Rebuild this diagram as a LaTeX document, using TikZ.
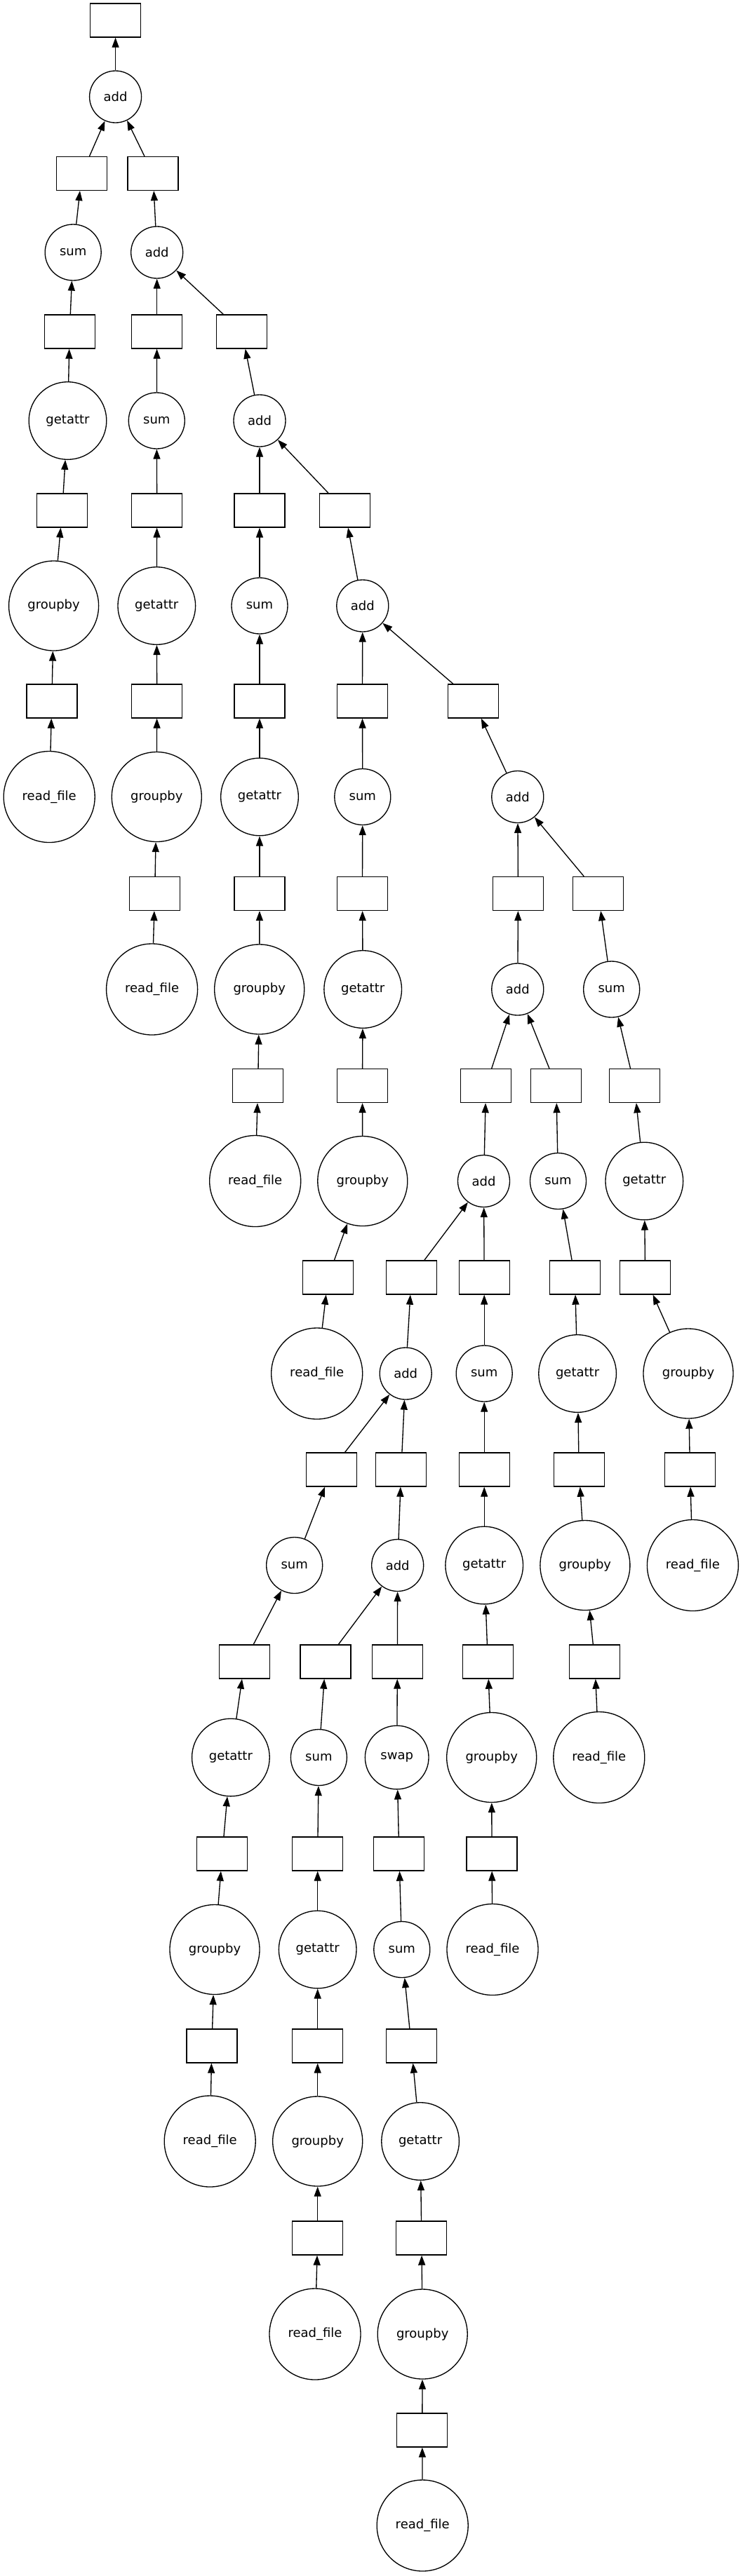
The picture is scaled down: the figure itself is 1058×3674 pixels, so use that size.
\documentclass[tikz,border=0pt]{standalone}
\usepackage{fontspec}
\setmainfont{DejaVu Sans}
\usepackage{tikz}
\usetikzlibrary{arrows.meta}
\tikzset{
	fn/.style={draw,circle,inner sep=0pt,line width=1pt,font=\fontsize{13.5}{16}\selectfont},
	readfile/.style={fn,minimum size=97.5pt},
	groupby/.style={fn,minimum size=96pt},
	getattr/.style={fn,minimum size=83pt},
	swapfn/.style={fn,minimum size=68pt},
	sumfn/.style={fn,minimum size=60pt},
	addfn/.style={fn,minimum size=55.5pt},
	dat/.style={draw,rectangle,inner sep=0pt,line width=1pt,minimum width=54pt,minimum height=36pt},
	link/.style={line width=1pt,-{Triangle[length=10.5pt,width=7.5pt]}}
}

\begin{document}
\begin{tikzpicture}[x=0.75pt,y=-0.75pt]
				\useasboundingbox (0,0) rectangle (1058,3674);
				% adds and their outputs
				\node[dat] (result) at (164.6,29) {};
				\node[addfn] (add1) at (164.6,138) {add};
				\node[dat] (badd2) at (218,247.5) {};
				\node[addfn] (add2) at (223.7,360) {add};
				\node[dat] (badd3) at (344.8,473) {};
				\node[addfn] (add3) at (370,600) {add};
				\node[dat] (badd4) at (491.5,728) {};
				\node[addfn] (add4) at (516.8,864) {add};
				\node[dat] (badd5) at (674.4,1000) {};
				\node[addfn] (add5) at (737.8,1136.5) {add};
				\node[dat] (badd6) at (738.5,1274.5) {};
				\node[addfn] (add6) at (737.8,1411) {add};
				\node[dat] (badd7) at (692.6,1548.5) {};
				\node[addfn] (add7) at (689.5,1684.5) {add};
				\node[dat] (badd8) at (586.3,1822) {};
				\node[addfn] (add8) at (578.2,1959) {add};
				\node[dat] (badd9) at (571.8,2096) {};
				\node[addfn] (add9) at (566.7,2232.5) {add};
				% chain 1
				\node[readfile] (rf1) at (70.2,1136.5) {read\_file};
				\node[dat] (brf1) at (73.9,1000) {};
				\node[groupby] (gb1) at (76.6,864) {groupby};
				\node[dat] (bgb1) at (88.7,728) {};
				\node[getattr] (ga1) at (96.5,600) {getattr};
				\node[dat] (bga1) at (99.2,473) {};
				\node[sumfn] (sm1) at (104.2,360) {sum};
				\node[dat] (bsm1) at (116.7,247.5) {};
				% chain 2
				\node[readfile] (rf2) at (216.6,1411) {read\_file};
				\node[dat] (brf2) at (220.6,1274.5) {};
				\node[groupby] (gb2) at (223.3,1136.5) {groupby};
				\node[dat] (bgb2) at (223.7,1000) {};
				\node[getattr] (ga2) at (223.3,864) {getattr};
				\node[dat] (bga2) at (223.7,728) {};
				\node[sumfn] (sm2) at (223.3,600) {sum};
				\node[dat] (bsm2) at (223.7,473) {};
				% chain 3
				\node[readfile] (rf3) at (363.7,1684.5) {read\_file};
				\node[dat] (brf3) at (367.7,1548.5) {};
				\node[groupby] (gb3) at (369.7,1411) {groupby};
				\node[dat] (bgb3) at (370,1274.5) {};
				\node[getattr] (ga3) at (370,1136.5) {getattr};
				\node[dat] (bga3) at (370,1000) {};
				\node[sumfn] (sm3) at (370,864) {sum};
				\node[dat] (bsm3) at (370,728) {};
				% chain 4
				\node[readfile] (rf4) at (451.7,1959) {read\_file};
				\node[dat] (brf4) at (467.6,1822) {};
				\node[groupby] (gb4) at (516.8,1684.5) {groupby};
				\node[dat] (bgb4) at (516.5,1548.5) {};
				\node[getattr] (ga4) at (517.2,1411) {getattr};
				\node[dat] (bga4) at (516.5,1274.5) {};
				\node[sumfn] (sm4) at (516.8,1136.5) {sum};
				\node[dat] (bsm4) at (516.5,1000) {};
				% chain 5
				\node[readfile] (rf5) at (987.4,2232.5) {read\_file};
				\node[dat] (brf5) at (983.4,2096) {};
				\node[groupby] (gb5) at (981,1959) {groupby};
				\node[dat] (bgb5) at (919.6,1822) {};
				\node[getattr] (ga5) at (918.3,1684.5) {getattr};
				\node[dat] (bga5) at (904.4,1548.5) {};
				\node[sumfn] (sm5) at (871.7,1411) {sum};
				\node[dat] (bsm5) at (852.8,1274.5) {};
				% chain 6
				\node[readfile] (rf6) at (853.8,2506.5) {read\_file};
				\node[dat] (brf6) at (847.8,2370) {};
				\node[groupby] (gb6) at (833.9,2232.5) {groupby};
				\node[dat] (bgb6) at (825.2,2096) {};
				\node[getattr] (ga6) at (823.1,1959) {getattr};
				\node[dat] (bga6) at (819.4,1822) {};
				\node[sumfn] (sm6) at (795.5,1684.5) {sum};
				\node[dat] (bsm6) at (792.8,1548.5) {};
				% chain 7
				\node[readfile] (rf7) at (702,2780.5) {read\_file};
				\node[dat] (brf7) at (701,2644) {};
				\node[groupby] (gb7) at (700.7,2506.5) {groupby};
				\node[dat] (bgb7) at (695.3,2370) {};
				\node[getattr] (ga7) at (690.2,2232.5) {getattr};
				\node[dat] (bga7) at (690.2,2096) {};
				\node[sumfn] (sm7) at (690.2,1959) {sum};
				\node[dat] (bsm7) at (690.2,1822) {};
				% chain 8
				\node[readfile] (rf8) at (299.2,3054) {read\_file};
				\node[dat] (brf8) at (301.9,2918) {};
				\node[groupby] (gb8) at (306,2780.5) {groupby};
				\node[dat] (bgb8) at (316.8,2644) {};
				\node[getattr] (ga8) at (328.9,2506.5) {getattr};
				\node[dat] (bga8) at (348.5,2370) {};
				\node[sumfn] (sm8) at (419.7,2232.5) {sum};
				\node[dat] (bsm8) at (472.6,2096) {};
				% chain 9
				\node[readfile] (rf9) at (449,3329) {read\_file};
				\node[dat] (brf9) at (452.7,3192) {};
				\node[groupby] (gb9) at (452.7,3054) {groupby};
				\node[dat] (bgb9) at (452.7,2918) {};
				\node[getattr] (ga9) at (452.7,2780.5) {getattr};
				\node[dat] (bga9) at (452.7,2644) {};
				\node[sumfn] (sm9) at (454.4,2506.5) {sum};
				\node[dat] (bsm9) at (463.9,2370) {};
				% chain 10
				\node[readfile] (rf10) at (602.2,3602) {read\_file};
				\node[dat] (brf10) at (601.8,3466) {};
				\node[groupby] (gb10) at (602.2,3329) {groupby};
				\node[dat] (bgb10) at (600.8,3192) {};
				\node[getattr] (ga10) at (599.1,3054) {getattr};
				\node[dat] (bga10) at (586.3,2918) {};
				\node[sumfn] (sm10) at (572.8,2780.5) {sum};
				\node[dat] (bsm10) at (568.8,2644) {};
				\node[swapfn] (swp) at (565.7,2506.5) {swap};
				\node[dat] (bswp) at (566.4,2370) {};
				% add links
				\draw[link] (add1) -- (result);
				\draw[link] (bsm1) -- (add1);
				\draw[link] (badd2) -- (add1);
				\draw[link] (add2) -- (badd2);
				\draw[link] (bsm2) -- (add2);
				\draw[link] (badd3) -- (add2);
				\draw[link] (add3) -- (badd3);
				\draw[link] (bsm3) -- (add3);
				\draw[link] (badd4) -- (add3);
				\draw[link] (add4) -- (badd4);
				\draw[link] (bsm4) -- (add4);
				\draw[link] (badd5) -- (add4);
				\draw[link] (add5) -- (badd5);
				\draw[link] (badd6) -- (add5);
				\draw[link] (bsm5) -- (add5);
				\draw[link] (add6) -- (badd6);
				\draw[link] (badd7) -- (add6);
				\draw[link] (bsm6) -- (add6);
				\draw[link] (add7) -- (badd7);
				\draw[link] (badd8) -- (add7);
				\draw[link] (bsm7) -- (add7);
				\draw[link] (add8) -- (badd8);
				\draw[link] (bsm8) -- (add8);
				\draw[link] (badd9) -- (add8);
				\draw[link] (add9) -- (badd9);
				\draw[link] (bsm9) -- (add9);
				\draw[link] (bswp) -- (add9);
				% chain links
				\draw[link] (rf1) -- (brf1);
				\draw[link] (brf1) -- (gb1);
				\draw[link] (gb1) -- (bgb1);
				\draw[link] (bgb1) -- (ga1);
				\draw[link] (ga1) -- (bga1);
				\draw[link] (bga1) -- (sm1);
				\draw[link] (sm1) -- (bsm1);
				\draw[link] (rf2) -- (brf2);
				\draw[link] (brf2) -- (gb2);
				\draw[link] (gb2) -- (bgb2);
				\draw[link] (bgb2) -- (ga2);
				\draw[link] (ga2) -- (bga2);
				\draw[link] (bga2) -- (sm2);
				\draw[link] (sm2) -- (bsm2);
				\draw[link] (rf3) -- (brf3);
				\draw[link] (brf3) -- (gb3);
				\draw[link] (gb3) -- (bgb3);
				\draw[link] (bgb3) -- (ga3);
				\draw[link] (ga3) -- (bga3);
				\draw[link] (bga3) -- (sm3);
				\draw[link] (sm3) -- (bsm3);
				\draw[link] (rf4) -- (brf4);
				\draw[link] (brf4) -- (gb4);
				\draw[link] (gb4) -- (bgb4);
				\draw[link] (bgb4) -- (ga4);
				\draw[link] (ga4) -- (bga4);
				\draw[link] (bga4) -- (sm4);
				\draw[link] (sm4) -- (bsm4);
				\draw[link] (rf5) -- (brf5);
				\draw[link] (brf5) -- (gb5);
				\draw[link] (gb5) -- (bgb5);
				\draw[link] (bgb5) -- (ga5);
				\draw[link] (ga5) -- (bga5);
				\draw[link] (bga5) -- (sm5);
				\draw[link] (sm5) -- (bsm5);
				\draw[link] (rf6) -- (brf6);
				\draw[link] (brf6) -- (gb6);
				\draw[link] (gb6) -- (bgb6);
				\draw[link] (bgb6) -- (ga6);
				\draw[link] (ga6) -- (bga6);
				\draw[link] (bga6) -- (sm6);
				\draw[link] (sm6) -- (bsm6);
				\draw[link] (rf7) -- (brf7);
				\draw[link] (brf7) -- (gb7);
				\draw[link] (gb7) -- (bgb7);
				\draw[link] (bgb7) -- (ga7);
				\draw[link] (ga7) -- (bga7);
				\draw[link] (bga7) -- (sm7);
				\draw[link] (sm7) -- (bsm7);
				\draw[link] (rf8) -- (brf8);
				\draw[link] (brf8) -- (gb8);
				\draw[link] (gb8) -- (bgb8);
				\draw[link] (bgb8) -- (ga8);
				\draw[link] (ga8) -- (bga8);
				\draw[link] (bga8) -- (sm8);
				\draw[link] (sm8) -- (bsm8);
				\draw[link] (rf9) -- (brf9);
				\draw[link] (brf9) -- (gb9);
				\draw[link] (gb9) -- (bgb9);
				\draw[link] (bgb9) -- (ga9);
				\draw[link] (ga9) -- (bga9);
				\draw[link] (bga9) -- (sm9);
				\draw[link] (sm9) -- (bsm9);
				\draw[link] (rf10) -- (brf10);
				\draw[link] (brf10) -- (gb10);
				\draw[link] (gb10) -- (bgb10);
				\draw[link] (bgb10) -- (ga10);
				\draw[link] (ga10) -- (bga10);
				\draw[link] (bga10) -- (sm10);
				\draw[link] (sm10) -- (bsm10);
				\draw[link] (bsm10) -- (swp);
				\draw[link] (swp) -- (bswp);
			\end{tikzpicture}
\end{document}
